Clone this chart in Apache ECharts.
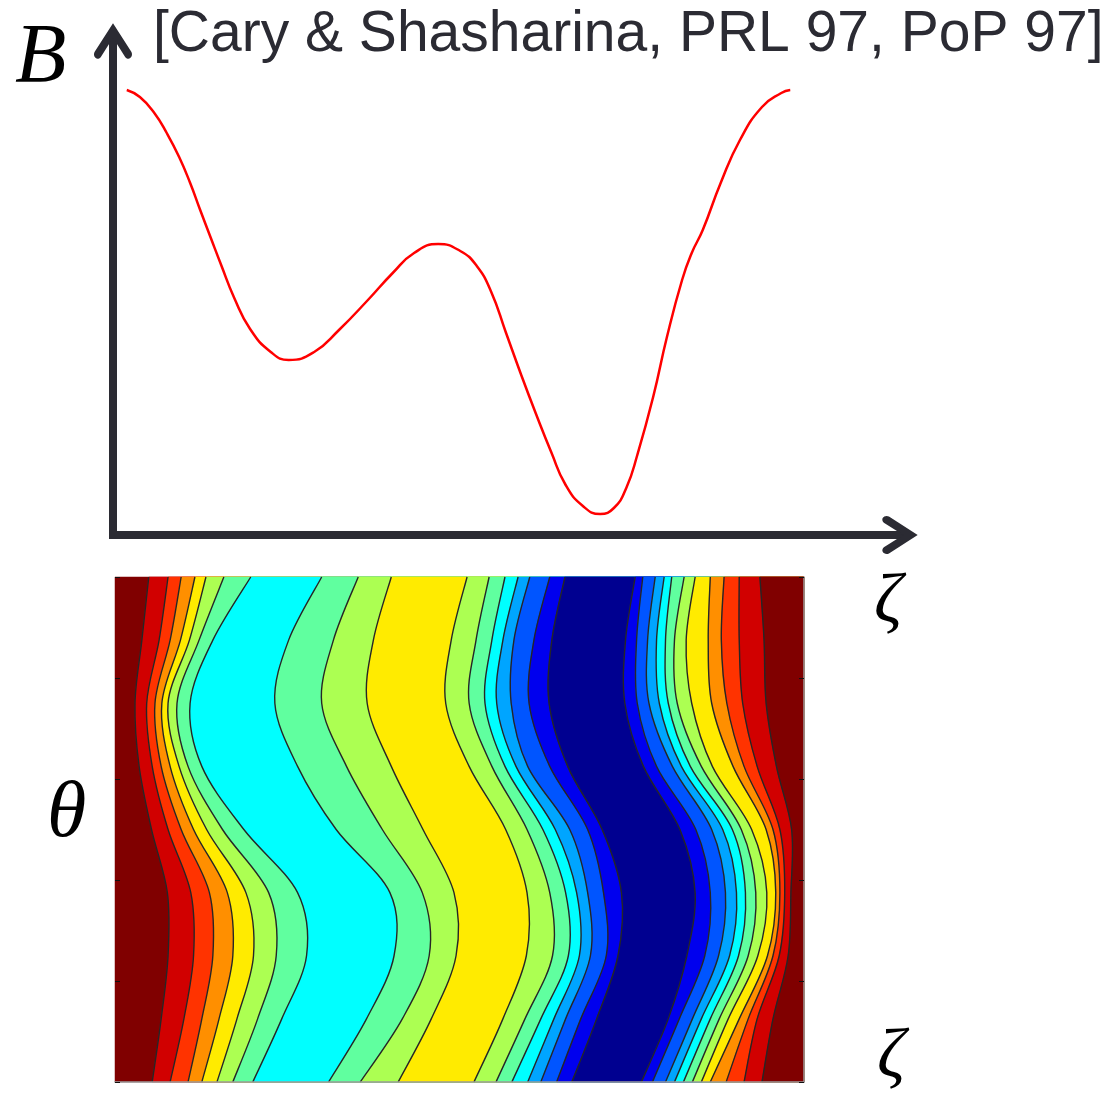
<!DOCTYPE html>
<html>
<head>
<meta charset="utf-8">
<title>B along a field line</title>
<script src="https://cdn.jsdelivr.net/npm/echarts@6/dist/echarts.min.js"></script>
<style>
  html, body { margin: 0; padding: 0; background: #fff; }
  #main { width: 1119px; height: 1096px; }
</style>
</head>
<body>
<div id="main"></div>
<script>
// top panel: B along zeta (normalised units)
var curveZeta = [0.020, 0.039, 0.060, 0.078, 0.096, 0.112, 0.126, 0.142, 0.157, 0.176, 0.199, 0.229,
    0.255, 0.292, 0.328, 0.370, 0.406, 0.437, 0.472, 0.504, 0.528, 0.549, 0.570, 0.592, 0.614, 0.636,
    0.657, 0.682, 0.707, 0.727, 0.745, 0.761, 0.784, 0.804, 0.826, 0.840, 0.856, 0.882, 0.910, 0.942,
    0.970, 0.983];
var curveB = [0.890, 0.876, 0.844, 0.804, 0.756, 0.704, 0.652, 0.594, 0.540, 0.474, 0.412, 0.366,
    0.350, 0.366, 0.410, 0.470, 0.524, 0.564, 0.582, 0.568, 0.538, 0.486, 0.406, 0.322, 0.242, 0.166,
    0.100, 0.058, 0.042, 0.054, 0.094, 0.160, 0.276, 0.396, 0.510, 0.564, 0.610, 0.704, 0.790, 0.856,
    0.884, 0.890];

// bottom panel: contour lines, zeta of each line (left to right) at each theta row
var thetaRows = [0, 0.125, 0.25, 0.375, 0.5, 0.625, 0.75, 0.875, 1];
var contourZeta = [
    [0.054,0.080,0.106,0.126,0.148,0.171,0.200,0.310,0.356,0.411,0.521,0.553,0.576,0.599,0.618,0.641,0.663,0.764,0.780,0.799,0.812,0.825,0.838,0.851,0.864,0.887,0.913,0.939],
    [0.067,0.100,0.126,0.151,0.177,0.207,0.242,0.365,0.417,0.459,0.563,0.595,0.618,0.637,0.654,0.676,0.699,0.803,0.819,0.838,0.851,0.864,0.877,0.890,0.906,0.919,0.932,0.955],
    [0.077,0.114,0.142,0.171,0.201,0.234,0.278,0.405,0.456,0.495,0.597,0.635,0.658,0.674,0.690,0.713,0.730,0.830,0.856,0.876,0.892,0.905,0.919,0.933,0.947,0.955,0.964,0.977],
    [0.076,0.110,0.137,0.163,0.190,0.223,0.265,0.399,0.446,0.492,0.598,0.631,0.654,0.670,0.686,0.709,0.735,0.842,0.864,0.886,0.902,0.915,0.930,0.946,0.959,0.965,0.972,0.981],
    [0.053,0.077,0.096,0.114,0.133,0.156,0.187,0.321,0.388,0.447,0.567,0.598,0.621,0.639,0.660,0.686,0.707,0.820,0.843,0.866,0.882,0.896,0.909,0.924,0.945,0.955,0.965,0.982],
    [0.035,0.054,0.067,0.080,0.093,0.106,0.126,0.265,0.336,0.401,0.514,0.547,0.566,0.582,0.599,0.631,0.657,0.767,0.786,0.809,0.822,0.835,0.851,0.867,0.897,0.913,0.932,0.960],
    [0.029,0.046,0.058,0.068,0.077,0.090,0.109,0.232,0.300,0.366,0.480,0.514,0.537,0.554,0.575,0.601,0.630,0.740,0.758,0.775,0.790,0.803,0.816,0.837,0.866,0.888,0.911,0.945],
    [0.039,0.064,0.080,0.095,0.108,0.122,0.142,0.252,0.317,0.375,0.488,0.524,0.547,0.563,0.579,0.608,0.634,0.741,0.757,0.773,0.786,0.799,0.812,0.829,0.861,0.880,0.906,0.942],
    [0.049,0.077,0.096,0.116,0.132,0.158,0.197,0.300,0.353,0.401,0.511,0.543,0.566,0.585,0.602,0.631,0.653,0.755,0.766,0.784,0.797,0.808,0.826,0.842,0.864,0.884,0.906,0.936]
];
// level of each band between the lines, 0 = lowest B
var bandLevels = [11,10,9,8,7,6,5,4,5,6,7,6,5,4,3,2,1,0,1,2,3,4,5,6,7,8,9,10,11];
var levelColors = ['#000090', '#0000ee', '#0055ff', '#00a5ff', '#00ffff', '#60ff9f',
    '#acff52', '#ffeb00', '#ff8f00', '#ff3300', '#d10000', '#800000'];

var ink = '#2b2b33';
var chevron = 'path://M19,0 L37,28 C39,32 35,37 31,33 L19,14 L7,33 C3,37 -1,32 1,28 Z';

var myChart = echarts.init(document.getElementById('main'));

function spline(pts) {
    // catmull-rom through the points, as svg curve commands
    var d = '';
    for (var i = 0; i < pts.length - 1; i++) {
        var p0 = pts[Math.max(i - 1, 0)], p1 = pts[i], p2 = pts[i + 1];
        var p3 = pts[Math.min(i + 2, pts.length - 1)];
        d += ' C' + (p1[0] + (p2[0] - p0[0]) / 6) + ',' + (p1[1] + (p2[1] - p0[1]) / 6) +
            ' ' + (p2[0] - (p3[0] - p1[0]) / 6) + ',' + (p2[1] - (p3[1] - p1[1]) / 6) +
            ' ' + p2[0] + ',' + p2[1];
    }
    return d;
}
function linePoints(api, k) {
    return thetaRows.map(function (t, r) { return api.coord([contourZeta[r][k], t]); });
}

function renderBand(params, api) {
    var i = api.value(0);
    var color = levelColors[bandLevels[i]];
    var topRight = api.coord([1, 1]), botRight = api.coord([1, 0]);
    var d;
    if (i === 0) {
        var tl = api.coord([0, 1]), bl = api.coord([0, 0]);
        d = 'M' + bl + ' L' + tl + ' L' + topRight + ' L' + botRight + ' Z';
    } else {
        var pts = linePoints(api, i - 1);
        d = 'M' + pts[0] + spline(pts) + ' L' + topRight + ' L' + botRight + ' Z';
    }
    return { type: 'path', z2: i, shape: { pathData: d }, style: { fill: color, stroke: color, lineWidth: 0.5 } };
}

function renderLine(params, api) {
    var pts = linePoints(api, api.value(0));
    return {
        type: 'path', z2: 100,
        shape: { pathData: 'M' + pts[0] + spline(pts) },
        style: { fill: null, stroke: '#262626', lineWidth: 1.4 }
    };
}

var arrowLine = {
    show: true,
    symbol: ['none', chevron],
    symbolSize: [38, 36],
    symbolOffset: [0, -6],
    lineStyle: { color: ink, width: 8, cap: 'square' }
};

option = {
    animation: false,
    backgroundColor: '#fff',
    title: {
        text: '[Cary & Shasharina, PRL 97, PoP 97]',
        left: 148, top: 2,
        textStyle: { fontFamily: 'Liberation Sans', fontSize: 57, fontWeight: 'normal', color: ink }
    },
    grid: [
        { left: 113, top: 35, right: 213, bottom: 561 },
        { left: 115, top: 577, right: 315, bottom: 14 }
    ],
    xAxis: [
        { type: 'value', gridIndex: 0, min: 0, max: 1.151, axisLine: arrowLine,
          axisTick: { show: false }, axisLabel: { show: false }, splitLine: { show: false } },
        { type: 'value', gridIndex: 1, min: 0, max: 1, position: 'top', z: 10,
          axisLine: { show: true, lineStyle: { color: '#9a9a9a', width: 1.5 } },
          axisTick: { show: false }, axisLabel: { show: false }, splitLine: { show: false } }
    ],
    yAxis: [
        { type: 'value', gridIndex: 0, min: 0, max: 1, axisLine: arrowLine,
          axisTick: { show: false }, axisLabel: { show: false }, splitLine: { show: false } },
        { type: 'value', gridIndex: 1, min: 0, max: 1, interval: 0.2, position: 'left', z: 10,
          axisLine: { show: false },
          axisTick: { show: true, inside: true, length: 5, lineStyle: { color: '#111', width: 1 } },
          axisLabel: { show: false }, splitLine: { show: false } },
        { type: 'value', gridIndex: 1, min: 0, max: 1, interval: 0.2, position: 'right', z: 10,
          axisLine: { show: true, lineStyle: { color: '#9a9a9a', width: 1.5 } },
          axisTick: { show: true, inside: true, length: 5, lineStyle: { color: '#111', width: 1 } },
          axisLabel: { show: false }, splitLine: { show: false } }
    ],
    graphic: [
        { type: 'text', left: 15, top: 18, style: { text: 'B', fontFamily: 'Liberation Serif', fontStyle: 'italic', fontSize: 84, fill: '#000' } },
        { type: 'text', left: 874, top: 569, style: { text: 'ζ', fontFamily: 'Liberation Serif', fontStyle: 'italic', fontSize: 70, fill: '#000' } },
        { type: 'text', left: 47, top: 775, style: { text: 'θ', fontFamily: 'Liberation Serif', fontStyle: 'italic', fontSize: 80, fill: '#000' } },
        { type: 'text', left: 877, top: 1024, style: { text: 'ζ', fontFamily: 'Liberation Serif', fontStyle: 'italic', fontSize: 70, fill: '#000' } }
    ],
    series: [
        {
            type: 'line', xAxisIndex: 0, yAxisIndex: 0,
            data: curveZeta.map(function (z, i) { return [z, curveB[i]]; }),
            smooth: 0.5, showSymbol: false,
            lineStyle: { color: '#ff0000', width: 2.5 }
        },
        {
            type: 'custom', xAxisIndex: 1, yAxisIndex: 1, z: 2,
            data: bandLevels.map(function (lv, i) { return [i]; }),
            encode: { x: -1, y: -1 },
            renderItem: renderBand
        },
        {
            type: 'custom', xAxisIndex: 1, yAxisIndex: 1, z: 3,
            data: contourZeta[0].map(function (z, k) { return [k]; }),
            encode: { x: -1, y: -1 },
            renderItem: renderLine
        }
    ]
};

myChart.setOption(option);
</script>
</body>
</html>
